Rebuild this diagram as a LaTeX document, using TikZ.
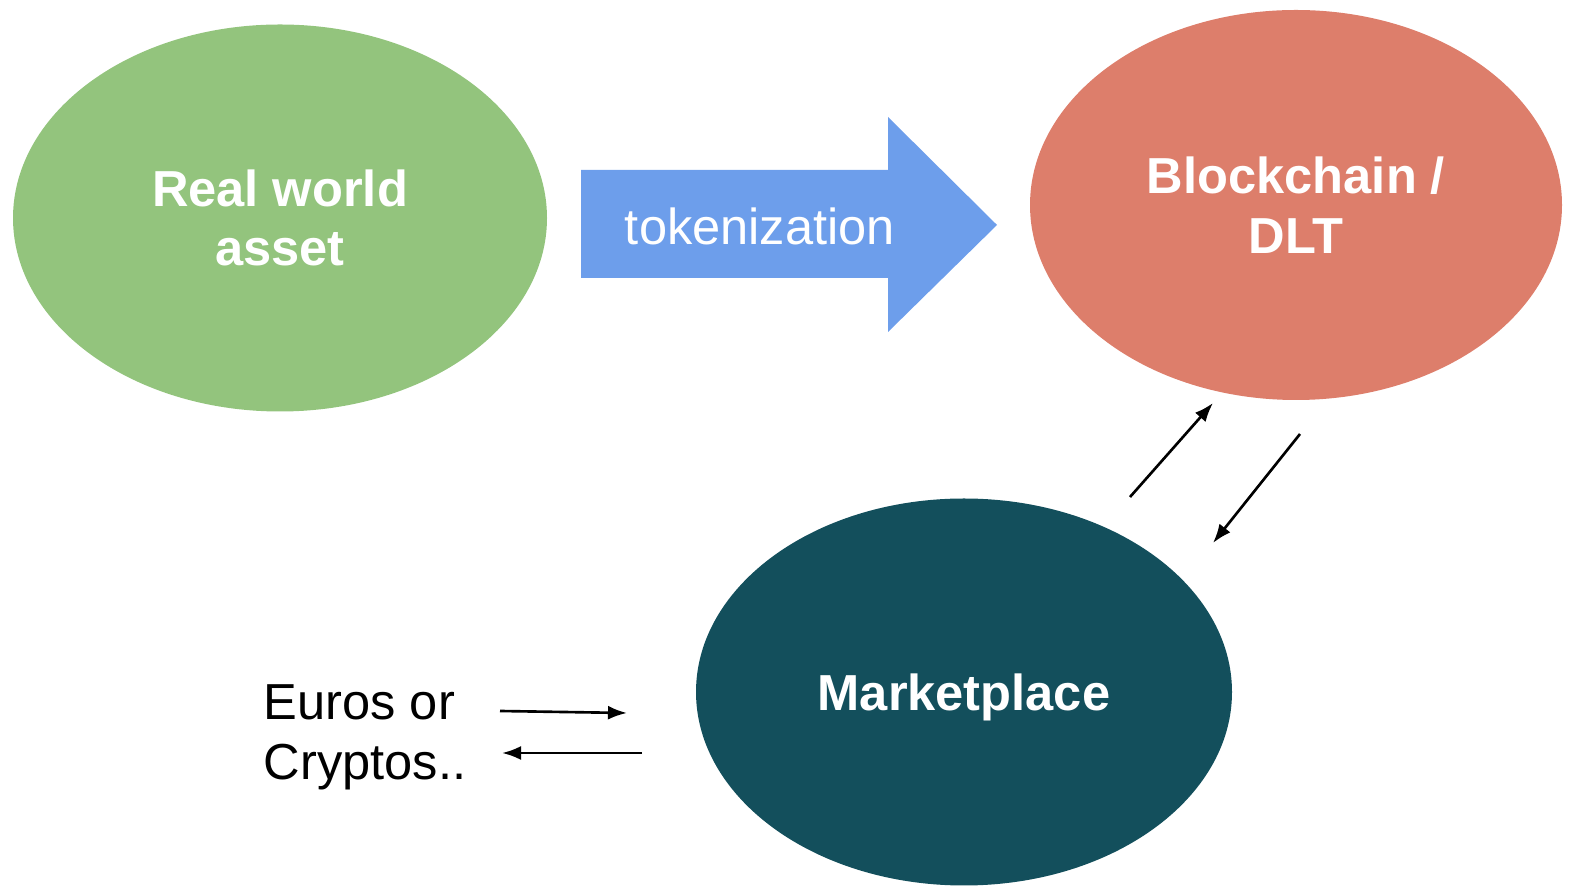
\documentclass[tikz,border=0pt]{standalone}
\usepackage{fontspec}
\setmainfont{Liberation Sans}
\usepackage{tikz}
\usetikzlibrary{shapes.geometric,arrows.meta}
\definecolor{assetgreen}{HTML}{93C47D}
\definecolor{tokblue}{HTML}{6D9EEB}
\definecolor{ledgerred}{HTML}{DD7E6B}
\definecolor{markteal}{HTML}{134F5C}
\newcommand{\bigtext}{\fontsize{14.4}{17}\selectfont}

\begin{document}
\begin{tikzpicture}[
  blob/.style={ellipse, inner sep=0pt, text=white, align=center,
    font=\bigtext\bfseries},
  flow/.style={line width=0.75pt, -{Latex[length=1.9mm,width=1.4mm]}}
]
\useasboundingbox (0,0) rectangle (15.70,8.89);

\node [blob, fill=assetgreen, minimum width=5.34cm, minimum height=3.87cm]
  (asset) at (2.80,6.71) {Real world\\asset};
\node [blob, fill=ledgerred, minimum width=5.32cm, minimum height=3.90cm]
  (ledger) at (12.96,6.84) {Blockchain /\\DLT};
\node [blob, fill=markteal, minimum width=5.36cm, minimum height=3.87cm,
  text depth=0pt] (market) at (9.64,1.97) {Marketplace};

% big arrow
\fill [tokblue] (5.81,7.19) -- (8.88,7.19) -- (8.88,7.72) -- (9.97,6.64)
  -- (8.88,5.57) -- (8.88,6.11) -- (5.81,6.11) -- cycle;
\node [text=white, font=\bigtext] (tok) at (7.60,6.63) {tokenization};

\node [anchor=west, inner sep=0pt, align=left, font=\bigtext]
  (money) at (2.63,1.52) {Euros or\\Cryptos..};

\coordinate (upA) at (11.30,3.92);
\coordinate (upB) at (12.13,4.86);
\coordinate (dnA) at (13.00,4.55);
\coordinate (dnB) at (12.13,3.46);
\coordinate (inA) at (5.00,1.78);
\coordinate (inB) at (6.27,1.76);
\coordinate (outA) at (6.42,1.36);
\coordinate (outB) at (5.02,1.36);

\draw [flow] (upA) -- (upB);
\draw [flow] (dnA) -- (dnB);
\draw [flow] (inA) -- (inB);
\draw [flow] (outA) -- (outB);

\end{tikzpicture}
\end{document}
